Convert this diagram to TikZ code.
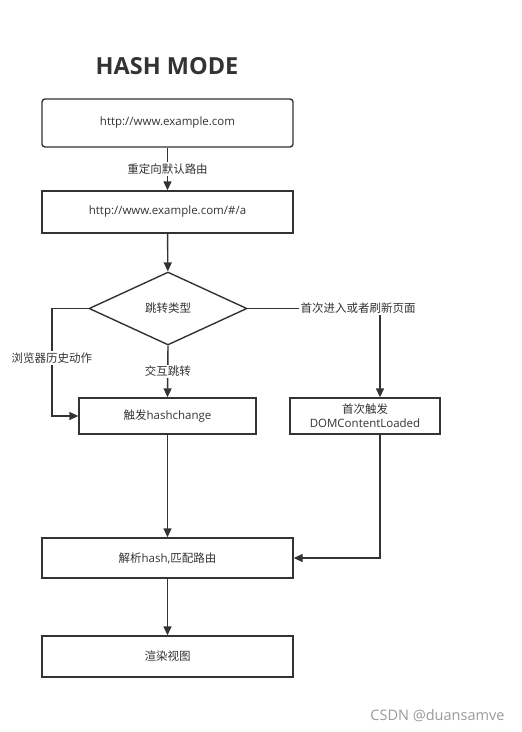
\documentclass[tikz,border=0pt]{standalone}
\usepackage{fontspec}
\setmainfont{Open Sans}
\newfontfamily\cjk{Noto Sans CJK SC}
\usetikzlibrary{shapes.geometric,arrows.meta}
\definecolor{ink}{HTML}{333333}
\definecolor{wm}{HTML}{9A9A9A}
\tikzset{
  box/.style={draw=ink, line width=1.4pt, text=ink, font=\fontsize{11.5}{13}\selectfont, align=center, inner sep=0pt},
  arr/.style={draw=ink, line width=1.4pt, -{Triangle[length=9pt,width=8pt]}},
  lbl/.style={fill=white, text=ink, font=\cjk\fontsize{11.5}{13}\selectfont, inner sep=1.5pt}
}
\begin{document}
\begin{tikzpicture}[x=1pt,y=-1pt]
\useasboundingbox (0,0) rectangle (522,732);
\node[text=ink, font=\bfseries\fontsize{23.5}{26}\selectfont] (title) at (167,66) {HASH MODE};
\node[box, rounded corners=3pt, minimum width=251pt, minimum height=48pt] (b1) at (167.5,123) {http://www.example.com};
\node[box, minimum width=251pt, minimum height=42pt] (b2) at (167.5,212) {http://www.example.com/\#/a};
\node[box, shape=diamond, minimum width=158pt, minimum height=73pt, aspect=2.16, font=\cjk\fontsize{11.5}{13}\selectfont] (dia) at (168,308.5) {跳转类型};
\node[box, minimum width=177pt, minimum height=36pt] (b3) at (167.5,416) {{\cjk 触发}hashchange};
\node[box, minimum width=150pt, minimum height=36pt, font=\fontsize{11.5}{14}\selectfont] (b4) at (365,416) {{\cjk 首次触发}\\DOMContentLoaded};
\node[box, minimum width=251pt, minimum height=40pt] (b5) at (167.5,558) {{\cjk 解析}hash,{\cjk 匹配路由}};
\node[box, minimum width=251pt, minimum height=41pt, font=\cjk\fontsize{11.5}{13}\selectfont] (b6) at (167.5,656.5) {渲染视图};
\coordinate (lx) at (52,0);
\coordinate (rx) at (380,0);
\draw[arr] (b1) -- node[lbl] (l1) {重定向默认路由} (b2);
\draw[arr] (b2) -- (dia);
\draw[arr] (dia.west) -- (dia.west -| lx) |- (b3.west);
\node[lbl] (l2) at (52,358) {浏览器历史动作};
\draw[arr] (dia.south) -- node[lbl, pos=0.5] (l3) {交互跳转} (b3.north);
\draw[arr] (dia.east) -- (dia.east -| rx) -- (b4.north -| rx);
\node[lbl] (l4) at (358,308.5) {首次进入或者刷新页面};
\draw[arr] (b4.south -| rx) |- (b5.east);
\draw[arr] (b3) -- (b5);
\draw[arr] (b5) -- (b6);
\node[text=wm, font=\fontsize{14.5}{16}\selectfont, anchor=east] (wmk) at (508,716) {CSDN @duansamve};
\end{tikzpicture}
\end{document}
